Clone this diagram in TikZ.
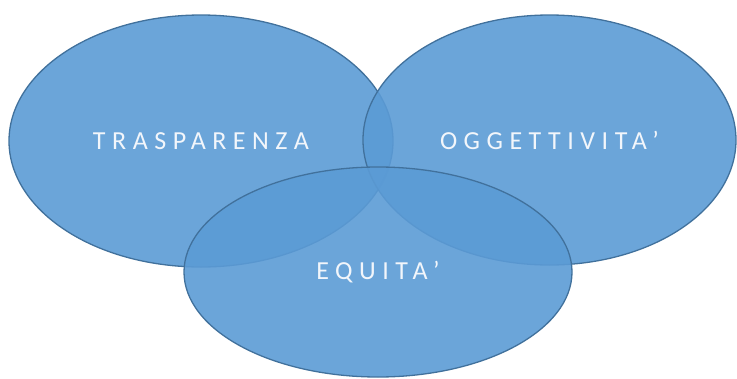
\documentclass[tikz,border=0pt]{standalone}
\usepackage{fontspec}
\setmainfont{Carlito}
\newfontfamily\spacedfont[LetterSpace=25]{Carlito}
\usetikzlibrary{shapes.geometric,positioning}
\definecolor{ovalfill}{HTML}{5B9BD5}
\definecolor{ovalline}{HTML}{41719C}
\definecolor{ovaltext}{HTML}{F2F6FB}
\tikzset{oval/.style={
            draw=ovalline,
            fill=ovalfill,
            fill opacity=0.9,
            text opacity=1,
            line width=1.3pt,
            ellipse,
            inner sep=0pt,
            text=ovaltext,
            font=\spacedfont\fontsize{26}{30}\selectfont
        }
    }

\begin{document}
\begin{tikzpicture}[x=1pt,y=-1pt]
        \useasboundingbox (0,0) rectangle (737,378);

        \node[oval,minimum width=384pt,minimum height=252pt] (trasparenza) at (201,141) {TRASPARENZA};
        \node[oval,minimum width=373pt,minimum height=250pt] (oggettivita) at (549.5,140) {OGGETTIVITA’};
        \node[oval,minimum width=388pt,minimum height=210pt] (equita) at (378,272) {EQUITA’};

    \end{tikzpicture}
\end{document}
